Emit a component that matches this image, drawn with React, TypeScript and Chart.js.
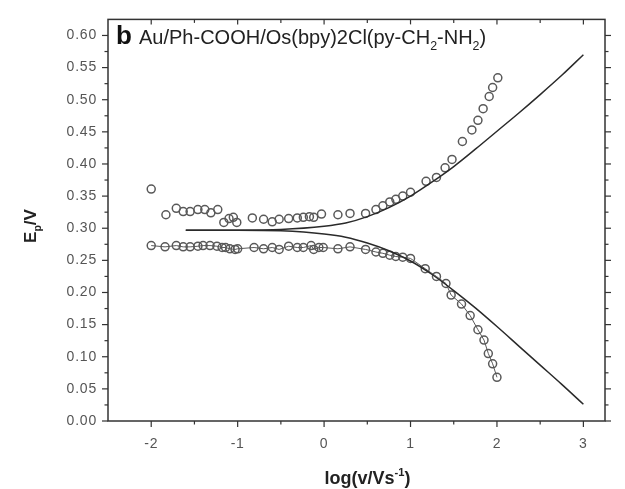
import React, { useEffect, useRef } from "react";
import { Chart, registerables } from "chart.js";

Chart.register(...registerables);

// ---- data ----
// anodic peak potentials (upper circles)
const anodicLogV = [
  -2.0, -1.83, -1.71, -1.63, -1.55, -1.46, -1.38, -1.31, -1.23, -1.16, -1.1, -1.05, -1.01,
  -0.83, -0.7, -0.6, -0.52, -0.41, -0.31, -0.24, -0.17, -0.12, -0.03, 0.16, 0.3, 0.48, 0.6,
  0.68, 0.76, 0.83, 0.91, 1.0, 1.18, 1.3, 1.4, 1.48, 1.6, 1.71, 1.78, 1.84, 1.91, 1.95, 2.01,
];
const anodicEp = [
  0.361, 0.321, 0.331, 0.326, 0.326, 0.329, 0.329, 0.324, 0.329, 0.309, 0.315, 0.317, 0.309,
  0.316, 0.314, 0.31, 0.314, 0.315, 0.316, 0.317, 0.318, 0.317, 0.322, 0.321, 0.323, 0.323, 0.329,
  0.335, 0.341, 0.345, 0.35, 0.356, 0.373, 0.379, 0.394, 0.407, 0.435, 0.453, 0.468, 0.486, 0.505, 0.519, 0.534,
];
// cathodic peak potentials (lower circles, joined)
const cathodicLogV = [
  -2.0, -1.84, -1.71, -1.63, -1.55, -1.46, -1.4, -1.32, -1.24, -1.18, -1.14, -1.09, -1.03, -1.0,
  -0.81, -0.7, -0.6, -0.52, -0.41, -0.31, -0.24, -0.15, -0.12, -0.06, -0.01, 0.16, 0.3, 0.48,
  0.6, 0.68, 0.76, 0.83, 0.91, 1.0, 1.17, 1.3, 1.41, 1.47, 1.59, 1.69, 1.78, 1.85, 1.9, 1.95, 2.0,
];
const cathodicEp = [
  0.273, 0.271, 0.273, 0.271, 0.271, 0.272, 0.273, 0.273, 0.272, 0.27, 0.27, 0.268, 0.267, 0.268,
  0.27, 0.268, 0.27, 0.267, 0.272, 0.27, 0.27, 0.273, 0.267, 0.27, 0.27, 0.268, 0.271, 0.267,
  0.263, 0.261, 0.258, 0.256, 0.255, 0.253, 0.237, 0.225, 0.214, 0.196, 0.182, 0.164, 0.142, 0.126, 0.105, 0.089, 0.068,
];
// theoretical (Laviron) curves
const fitLogV = [-1.6, -1.0, -0.5, 0.0, 0.25, 0.5, 0.75, 1.0, 1.25, 1.5, 1.75, 2.0, 2.25, 2.5, 2.75, 3.0];
const fitAnodic = [0.297, 0.297, 0.298, 0.303, 0.308, 0.318, 0.332, 0.35, 0.372, 0.396, 0.423, 0.451, 0.479, 0.508, 0.538, 0.57];
const fitCathodic = [0.297, 0.297, 0.296, 0.291, 0.286, 0.277, 0.265, 0.249, 0.228, 0.203, 0.176, 0.147, 0.117, 0.087, 0.057, 0.026];

// axes
const xTicks = [-2, -1, 0, 1, 2, 3];
const xMinorTicks = [-1.5, -0.5, 0.5, 1.5, 2.5];
const yTicks = [0, 0.05, 0.1, 0.15, 0.2, 0.25, 0.3, 0.35, 0.4, 0.45, 0.5, 0.55, 0.6];
const yMinorTicks = [0.025, 0.075, 0.125, 0.175, 0.225, 0.275, 0.325, 0.375, 0.425, 0.475, 0.525, 0.575];

const xTitle = [{ t: "log(v/Vs", m: "n" }, { t: "-1", m: "sup" }, { t: ")", m: "n" }];
const yTitle = [{ t: "E", m: "n" }, { t: "p", m: "sub" }, { t: "/V", m: "n" }];
const panelLetter = "b";
const panelText = [
  { t: "Au/Ph-COOH/Os(bpy)2Cl(py-CH", m: "n" },
  { t: "2", m: "sub" },
  { t: "-NH", m: "n" },
  { t: "2", m: "sub" },
  { t: ")", m: "n" },
];

const FONT = "'Liberation Sans', Arial, Helvetica, sans-serif";
const AXIS = "#333333";
const MARK = "#595959";

type Part = { t: string; m: string };

function drawRich(ctx: any, parts: Part[], x: number, y: number, size: number, weight: string, color: string, align: "left" | "center", spacing: number) {
  const sub = size * 0.62;
  const fontFor = (m: string) => `${weight} ${m === "n" ? size : sub}px ${FONT}`;
  ctx.letterSpacing = `${spacing}px`;
  let total = 0;
  const widths = parts.map((p) => {
    ctx.font = fontFor(p.m);
    const w = ctx.measureText(p.t).width;
    total += w;
    return w;
  });
  let cx = align === "center" ? x - total / 2 : x;
  ctx.fillStyle = color;
  ctx.textBaseline = "alphabetic";
  ctx.textAlign = "left";
  parts.forEach((p, i) => {
    ctx.font = fontFor(p.m);
    let dy = 0;
    if (p.m === "sub") dy = size * 0.28;
    if (p.m === "sup") dy = -size * 0.42;
    ctx.fillText(p.t, cx, y + dy);
    cx += widths[i];
  });
  ctx.letterSpacing = "0px";
}

const spacingPlugin = {
  id: "spacing",
  beforeDraw(chart: any) {
    chart.ctx.letterSpacing = "0.8px";
  },
};

const decorPlugin = {
  id: "decor",
  afterDraw(chart: any) {
    const { ctx, chartArea: a, scales } = chart;
    const xs = scales.x;
    const ys = scales.y;
    ctx.letterSpacing = "0px";
    ctx.save();
    ctx.strokeStyle = AXIS;
    ctx.lineWidth = 1.5;
    ctx.strokeRect(a.left, a.top, a.right - a.left, a.bottom - a.top);
    ctx.lineWidth = 1.2;
    const seg = (x1: number, y1: number, x2: number, y2: number) => {
      ctx.beginPath();
      ctx.moveTo(x1, y1);
      ctx.lineTo(x2, y2);
      ctx.stroke();
    };
    xTicks.forEach((v) => {
      const p = xs.getPixelForValue(v);
      seg(p, a.bottom, p, a.bottom + 6);
      seg(p, a.top, p, a.top + 5);
    });
    xMinorTicks.forEach((v) => {
      const p = xs.getPixelForValue(v);
      seg(p, a.bottom, p, a.bottom + 3.5);
      seg(p, a.top, p, a.top + 3.5);
    });
    yTicks.forEach((v) => {
      const p = ys.getPixelForValue(v);
      seg(a.left - 6, p, a.left, p);
      seg(a.right, p, a.right + 6, p);
    });
    yMinorTicks.forEach((v) => {
      const p = ys.getPixelForValue(v);
      seg(a.left - 3.5, p, a.left, p);
      seg(a.right, p, a.right + 3.5, p);
    });

    // axis titles
    drawRich(ctx, xTitle, (a.left + a.right) / 2 + 11, 484, 18, "bold", "#222", "center", 0);
    ctx.save();
    ctx.translate(36, 226);
    ctx.rotate(-Math.PI / 2);
    drawRich(ctx, yTitle, 0, 0, 17, "bold", "#222", "center", 0);
    ctx.restore();

    // panel annotation
    ctx.font = `bold 26px ${FONT}`;
    ctx.fillStyle = "#111";
    ctx.textAlign = "left";
    ctx.textBaseline = "alphabetic";
    ctx.fillText(panelLetter, a.left + 8, a.top + 25);
    drawRich(ctx, panelText, a.left + 31, a.top + 25, 20, "normal", "#222", "left", 0);
    ctx.restore();
  },
};

export default function App() {
  const ref = useRef<HTMLCanvasElement | null>(null);
  useEffect(() => {
    if (!ref.current) return;
    const tickFont = { family: FONT, size: 14 };
    const circle = {
      pointStyle: "circle",
      pointRadius: 4,
      pointBorderWidth: 1.5,
      pointBorderColor: MARK,
      pointBackgroundColor: "rgba(0,0,0,0)",
    };
    const chart = new Chart(ref.current, {
      type: "scatter",
      data: {
        datasets: [
          {
            label: "theory anodic",
            data: fitLogV.map((x, i) => ({ x, y: fitAnodic[i] })),
            showLine: true,
            borderColor: "#2a2a2a",
            borderWidth: 1.5,
            pointRadius: 0,
            cubicInterpolationMode: "monotone",
            fill: false,
          },
          {
            label: "theory cathodic",
            data: fitLogV.map((x, i) => ({ x, y: fitCathodic[i] })),
            showLine: true,
            borderColor: "#2a2a2a",
            borderWidth: 1.5,
            pointRadius: 0,
            cubicInterpolationMode: "monotone",
            fill: false,
          },
          {
            label: "anodic",
            data: anodicLogV.map((x, i) => ({ x, y: anodicEp[i] })),
            showLine: false,
            ...circle,
          },
          {
            label: "cathodic",
            data: cathodicLogV.map((x, i) => ({ x, y: cathodicEp[i] })),
            showLine: true,
            borderColor: MARK,
            borderWidth: 1,
            ...circle,
          },
        ],
      } as any,
      options: {
        responsive: false,
        animation: false,
        devicePixelRatio: 1,
        layout: { padding: { left: 0, right: 20, top: 10, bottom: 0 } },
        plugins: { legend: { display: false }, tooltip: { enabled: false } },
        scales: {
          x: {
            type: "linear",
            min: -2.5,
            max: 3.25,
            grid: { display: false, drawTicks: false },
            border: { display: false },
            ticks: { padding: 15, font: tickFont, color: "#555", callback: (v: any) => String(v) },
            afterBuildTicks: (s: any) => {
              s.ticks = xTicks.map((v) => ({ value: v }));
            },
            afterFit: (s: any) => {
              s.height = 68;
            },
          },
          y: {
            type: "linear",
            min: 0,
            max: 0.625,
            grid: { display: false, drawTicks: false },
            border: { display: false },
            ticks: { padding: 11, font: tickFont, color: "#555", callback: (v: any) => Number(v).toFixed(2) },
            afterBuildTicks: (s: any) => {
              s.ticks = yTicks.map((v) => ({ value: v }));
            },
            afterFit: (s: any) => {
              s.width = 108;
            },
          },
        },
      } as any,
      plugins: [spacingPlugin, decorPlugin],
    });
    return () => chart.destroy();
  }, []);
  return (
    <div style={{ position: "absolute", left: 0, top: 0, width: 625, height: 489, background: "#fff" }}>
      <canvas ref={ref} width={625} height={489} style={{ display: "block" }} />
    </div>
  );
}
